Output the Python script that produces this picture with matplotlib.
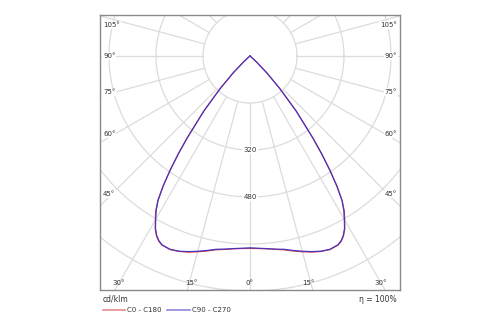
import numpy as np
import matplotlib.pyplot as plt
from matplotlib.lines import Line2D

# luminous intensity distribution, gamma angle (deg) -> cd/klm
gamma = [0, 2.5, 5, 7.5, 10, 12.5, 15, 17.5, 20, 22.5, 25, 26.25, 27.5, 28.75,
         30, 31.25, 32.5, 33.75, 35, 36.25, 37.5, 40, 42.5, 45, 47.5, 50, 55,
         60, 90, 180]
c0_c180 = [655, 656, 659, 664, 670, 680, 690, 700, 708, 713, 710, 703, 690, 671,
           645, 619, 585, 534, 475, 414, 352, 246, 152, 82, 32, 11, 3,
           0, 0, 0]
c90_c270 = [653, 655, 658, 663, 668, 678, 688, 698, 707, 712, 709, 701, 688, 669,
            642, 616, 582, 531, 472, 411, 350, 244, 150, 80, 30, 10, 3,
            0, 0, 0]

rings = [160, 320, 480, 640, 800]
ring_labels = [320, 480]
angle_labels = [0, 15, 30, 45, 60, 75, 90, 105]
eta = "η = 100%"
unit = "cd/klm"
series_names = ["C0 - C180", "C90 - C270"]
colors = ["#d93a3a", "#4433c4"]
legend_colors = ["#e58a8a", "#8c88d8"]

fig = plt.figure(figsize=(5, 3.25), dpi=100)
ax = fig.add_axes([0.2, 0.1077, 0.6, 0.846])

px = 3.404  # cd/klm per pixel
xmax = 150 * px
ytop = 41 * px
ybot = -234 * px
ax.set_xlim(-xmax, xmax)
ax.set_ylim(ybot, ytop)
ax.set_aspect("equal")
ax.set_xticks([])
ax.set_yticks([])
for s in ax.spines.values():
    s.set_color("#8a8a8a")
    s.set_linewidth(1.0)

grid_c = "#dcdcdc"
t = np.linspace(0, 2 * np.pi, 400)
for r in rings:
    ax.plot(r * np.cos(t), r * np.sin(t), color=grid_c, lw=0.9, zorder=1)
for a in range(0, 360, 15):
    g = np.radians(a)
    ax.plot([rings[0] * np.sin(g), 3000 * np.sin(g)],
            [-rings[0] * np.cos(g), -3000 * np.cos(g)],
            color=grid_c, lw=0.9, zorder=1)

# ring values
for v in ring_labels:
    ax.text(0, -v, str(v), fontsize=5, color="#333333", ha="center", va="center",
            bbox=dict(boxstyle="square,pad=0.15", fc="white", ec="none"), zorder=3)

# angle labels
d = 17 * px
for a in angle_labels:
    g = np.radians(a)
    for sgn in (-1, 1):
        if a == 0 and sgn == 1:
            continue
        if a <= 30:
            xi = sgn * (-ybot) * np.tan(g)
            x = xi - sgn * 4 * px if a > 0 else 0
            ax.text(x, ybot + 7 * px, f"{a}°", fontsize=5, color="#333333",
                    ha="center", va="center", zorder=3)
        else:
            tt = xmax / np.sin(g)
            y = -(tt - d) * np.cos(g)
            y = min(y, ytop - 10 * px)
            ax.text(sgn * (xmax - 3 * px), y, f"{a}°", fontsize=5, color="#333333",
                    ha="right" if sgn > 0 else "left", va="center", zorder=3,
                    bbox=dict(boxstyle="square,pad=0.1", fc="white", ec="none"))

# curves (both halves of each plane)
for vals, col in zip([c0_c180, c90_c270], colors):
    g = np.radians(np.array(gamma))
    I = np.array(vals, dtype=float)
    x = np.concatenate([-(I * np.sin(g))[::-1], (I * np.sin(g))[1:]])
    y = np.concatenate([-(I * np.cos(g))[::-1], -(I * np.cos(g))[1:]])
    ax.plot(x, y, color=col, lw=0.85, zorder=4, solid_joinstyle="round")

# footer
fig.text(0.206, 0.08, unit, fontsize=5.5, color="#333333", va="center")
fig.text(0.794, 0.08, eta, fontsize=5.5, color="#333333", va="center", ha="right")
fig.add_artist(Line2D([0.206, 0.25], [0.046, 0.046], color=legend_colors[0], lw=1.2))
fig.text(0.254, 0.046, series_names[0], fontsize=5, color="#333333", va="center")
fig.add_artist(Line2D([0.334, 0.38], [0.046, 0.046], color=legend_colors[1], lw=1.2))
fig.text(0.384, 0.046, series_names[1], fontsize=5, color="#333333", va="center")

fig.savefig("out.png", dpi=100)
